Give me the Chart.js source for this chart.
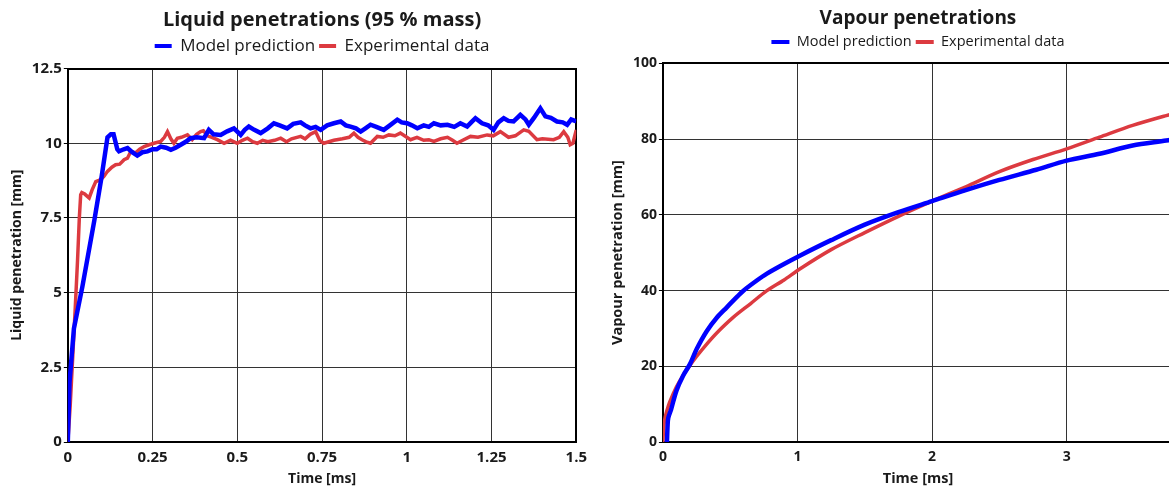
<!DOCTYPE html>
<html><head><meta charset="utf-8">
<script src="https://cdn.jsdelivr.net/npm/chart.js@4.4.1/dist/chart.umd.min.js"></script>
<style>
html,body{margin:0;padding:0;background:#fff;overflow:hidden;width:1169px;height:488px;}
#w1{position:absolute;left:0;top:0;width:590px;height:488px;}
#w2{position:absolute;left:600px;top:0;width:590px;height:488px;}
</style></head><body>
<div id="w1"><canvas id="c1"></canvas></div>
<div id="w2"><canvas id="c2"></canvas></div>
<script>
// ---- Liquid penetration (left) ----
const liqModelT = [0,0.005,0.018,0.043,0.078,0.1,0.117,0.127,0.135,0.146,0.151,0.165,0.176,0.19,0.205,0.22,0.235,0.25,0.262,0.274,0.29,0.304,0.318,0.333,0.348,0.362,0.38,0.402,0.416,0.43,0.451,0.47,0.49,0.51,0.522,0.534,0.55,0.569,0.59,0.608,0.625,0.647,0.665,0.687,0.7,0.716,0.731,0.746,0.765,0.785,0.805,0.82,0.834,0.85,0.864,0.878,0.893,0.91,0.932,0.95,0.972,0.985,1.001,1.015,1.031,1.05,1.065,1.08,1.1,1.12,1.14,1.158,1.178,1.19,1.2025,1.222,1.24,1.256,1.27,1.286,1.3,1.315,1.335,1.35,1.36,1.375,1.394,1.409,1.425,1.443,1.46,1.473,1.485,1.5];
const liqModelV = [0,2.0,3.8,5.2,7.4,8.9,10.2,10.3,10.3,9.8,9.73,9.8,9.84,9.7,9.59,9.7,9.73,9.8,9.8,9.89,9.85,9.78,9.85,9.95,10.05,10.17,10.2,10.17,10.45,10.3,10.28,10.4,10.5,10.28,10.45,10.56,10.45,10.34,10.5,10.67,10.6,10.5,10.65,10.7,10.6,10.5,10.55,10.45,10.6,10.67,10.73,10.6,10.56,10.5,10.39,10.5,10.62,10.55,10.45,10.6,10.79,10.7,10.67,10.6,10.5,10.6,10.55,10.67,10.6,10.62,10.55,10.67,10.56,10.7,10.84,10.67,10.6,10.45,10.7,10.84,10.75,10.73,10.95,10.8,10.62,10.85,11.17,10.9,10.85,10.73,10.7,10.62,10.8,10.73];
const liqExpT = [0,0.007,0.0138,0.022,0.0286,0.034,0.038,0.0413,0.05,0.063,0.072,0.0825,0.097,0.107,0.117,0.13,0.141,0.153,0.166,0.176,0.186,0.2,0.212,0.225,0.24,0.254,0.274,0.285,0.294,0.304,0.313,0.323,0.335,0.353,0.367,0.38,0.392,0.4,0.412,0.425,0.441,0.461,0.48,0.5,0.515,0.53,0.545,0.559,0.575,0.59,0.61,0.628,0.645,0.66,0.687,0.7,0.715,0.731,0.743,0.755,0.77,0.785,0.81,0.83,0.844,0.856,0.868,0.88,0.893,0.913,0.93,0.947,0.965,0.981,1.0,1.011,1.03,1.05,1.065,1.08,1.1,1.12,1.135,1.148,1.165,1.188,1.21,1.237,1.255,1.276,1.3,1.32,1.345,1.36,1.384,1.4,1.433,1.45,1.463,1.475,1.482,1.49,1.5];
const liqExpV = [0,1.2,2.7,4.5,6.05,7.5,8.28,8.35,8.3,8.17,8.45,8.72,8.78,8.9,9.06,9.2,9.28,9.3,9.45,9.5,9.73,9.68,9.8,9.89,9.95,10.0,10.06,10.2,10.39,10.15,10.0,10.17,10.2,10.28,10.12,10.3,10.39,10.42,10.25,10.2,10.12,10.0,10.1,10.0,10.1,10.17,10.05,10.0,10.1,10.05,10.1,10.17,10.05,10.15,10.23,10.15,10.3,10.39,10.1,10.0,10.05,10.1,10.15,10.2,10.34,10.2,10.12,10.05,10.0,10.23,10.2,10.28,10.25,10.34,10.2,10.12,10.2,10.1,10.12,10.06,10.15,10.2,10.1,10.0,10.1,10.23,10.2,10.28,10.25,10.39,10.2,10.25,10.45,10.4,10.12,10.15,10.12,10.2,10.39,10.2,9.95,10.0,10.45];
const liqXTicks = [0,0.25,0.5,0.75,1,1.25,1.5];
const liqYTicks = [0,2.5,5,7.5,10,12.5];

// ---- Vapour penetration (right) ----
const vapModelT = [0.03,0.035,0.04,0.06,0.1,0.15,0.2,0.25,0.324,0.4,0.473,0.55,0.596,0.7,0.77,0.9,1.017,1.25,1.5,1.75,2.0,2.25,2.5,2.774,3.0,3.244,3.49,3.74,3.8];
const vapModelV = [0,4.5,6.4,8.5,13.5,17.5,20.5,24.5,29.2,32.8,35.5,38.3,39.9,42.7,44.4,47,49.2,53.3,57.4,60.7,63.6,66.5,69.2,71.9,74.3,76.1,78.3,79.6,80.0];
const vapExpT = [0,0.005,0.015,0.03,0.05,0.1,0.15,0.2,0.25,0.324,0.4,0.522,0.65,0.77,0.9,1.017,1.25,1.5,1.75,2.0,2.25,2.5,2.75,3.0,3.244,3.49,3.74,3.8];
const vapExpV = [0,3.5,6.2,8.3,10.5,14.5,17.6,20.2,22.6,25.8,28.8,32.9,36.5,39.9,42.8,45.7,50.8,55.3,59.6,63.6,67.4,71.4,74.6,77.4,80.5,83.6,86.2,86.7];
const vapXTicks = [0,1,2,3];
const vapYTicks = [0,20,40,60,80,100];

const BLUE = '#0000ff';
const RED = '#dc3a40';
const F = "'Open Sans', 'Noto Sans', sans-serif";
const TXT = '#1a1a1a';

function toXY(ts, vs) { return ts.map((t, i) => ({x: t, y: vs[i]})); }

const centerPlugin = {
  id: 'centerOnArea',
  afterLayout(chart) {
    const a = chart.chartArea;
    [chart.titleBlock, chart.legend].forEach(b => {
      if (b) { b.left = a.left; b.right = a.right; b.width = a.right - a.left; }
    });
  }
};

function makeChart(id, o) {
  const tickFont = {family: F, size: o.tickSize, weight: 'bold', lineHeight: 1.2};
  const axTitleFont = {family: F, size: o.axTitleSize, weight: 'bold', lineHeight: 1.2};
  return new Chart(document.getElementById(id), {
    type: 'line',
    data: { datasets: [
      { label: 'Model prediction', data: toXY(o.mT, o.mV), borderColor: BLUE, backgroundColor: BLUE,
        borderWidth: 4.5, pointRadius: 0, tension: o.tension, fill: false },
      { label: 'Experimental data', data: toXY(o.eT, o.eV), borderColor: RED, backgroundColor: RED,
        borderWidth: 3.5, pointRadius: 0, tension: o.tension, fill: false }
    ]},
    options: {
      responsive: true, maintainAspectRatio: false, animation: false,
      layout: { padding: o.pad },
      plugins: {
        title: { display: true, text: o.title, color: TXT,
          font: {family: F, size: o.titleSize, weight: 'bold', lineHeight: 1.2}, padding: o.titlePad },
        legend: { labels: { font: {family: F, size: o.legendSize}, color: TXT,
          boxWidth: o.boxW, boxHeight: 4, padding: o.legendPad,
          generateLabels: chart => chart.data.datasets.map((d, i) => ({
            text: d.label, fillStyle: d.borderColor, strokeStyle: d.borderColor,
            lineWidth: 0, hidden: false, datasetIndex: i, fontColor: TXT })) } },
        tooltip: { enabled: false }
      },
      scales: {
        x: { type: 'linear', min: 0, max: o.xMax,
          afterBuildTicks: ax => { ax.ticks = o.xTicks.map(v => ({value: v})); },
          ticks: { font: tickFont, color: TXT, padding: 3, maxRotation: 0, autoSkip: false, callback: v => String(v) },
          grid: { color: '#333', lineWidth: 1, drawTicks: true, tickLength: 4, tickColor: 'rgba(0,0,0,0)' },
          border: { color: '#000', width: 2 },
          title: { display: true, text: 'Time [ms]', color: TXT, font: axTitleFont, padding: o.xTitlePad } },
        x2: { type: 'linear', position: 'top', min: 0, max: o.xMax,
          ticks: { display: false },
          grid: { drawOnChartArea: false, drawTicks: true, tickLength: o.topGap, tickColor: 'rgba(0,0,0,0)' },
          border: { color: '#000', width: 2 } },
        y: { type: 'linear', min: 0, max: o.yMax,
          afterBuildTicks: ax => { ax.ticks = o.yTicks.map(v => ({value: v})); },
          ticks: { font: tickFont, color: TXT, padding: 2, autoSkip: false, callback: v => String(v) },
          grid: { color: '#333', lineWidth: 1, drawTicks: true, tickLength: 4, tickColor: '#000' },
          border: { color: '#000', width: 2 } ,
          title: { display: true, text: o.yTitle, color: TXT, font: axTitleFont, padding: o.yTitlePad } },
        y2: { type: 'linear', position: 'right', min: 0, max: o.yMax,
          ticks: { display: false },
          grid: { drawOnChartArea: false, drawTicks: false },
          border: { color: '#000', width: 2 } }
      }
    },
    plugins: [centerPlugin]
  });
}

makeChart('c1', {
  title: 'Liquid penetrations (95 % mass)', yTitle: 'Liquid penetration [mm]',
  mT: liqModelT, mV: liqModelV, eT: liqExpT, eV: liqExpV,
  xMax: 1.5, yMax: 12.5, xTicks: liqXTicks, yTicks: liqYTicks, tension: 0,
  titleSize: 20, legendSize: 17, tickSize: 15, axTitleSize: 14, boxW: 17,
  pad: {left: 6, right: 6, top: 0, bottom: 0},
  titlePad: {top: 8.3, bottom: 1.3}, legendPad: 4, topGap: 4,
  yTitlePad: {top: 3, bottom: 4},
  xTitlePad: {top: 0.6, bottom: 0.6}
});

makeChart('c2', {
  title: 'Vapour penetrations', yTitle: 'Vapour penetration [mm]',
  mT: vapModelT, mV: vapModelV, eT: vapExpT, eV: vapExpV,
  xMax: 3.79, yMax: 100, xTicks: vapXTicks, yTicks: vapYTicks, tension: 0.3,
  titleSize: 19, legendSize: 14.5, tickSize: 14, axTitleSize: 14.5, boxW: 18,
  pad: {left: 6, right: 17, top: 0, bottom: 0},
  titlePad: {top: 7, bottom: 1}, legendPad: 4, topGap: 4,
  yTitlePad: {top: 3, bottom: 4.5},
  xTitlePad: {top: 1.5, bottom: 0.3}
});
</script>
</body></html>
